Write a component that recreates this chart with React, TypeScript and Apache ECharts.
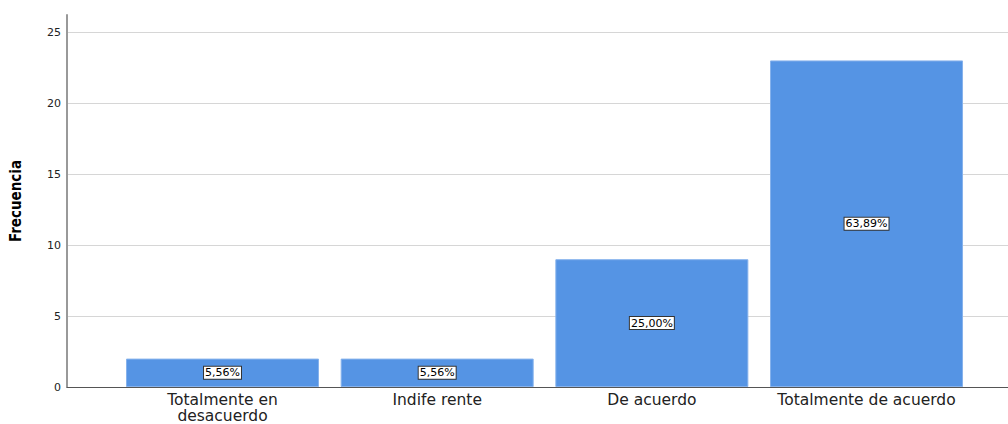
import React, { useEffect, useRef } from "react";
import * as echarts from "echarts";

const categories = ["Totalmente en\ndesacuerdo", "Indife rente", "De acuerdo", "Totalmente de acuerdo"];
const frequencies = [2, 2, 9, 23];
const percentLabels = ["5,56%", "5,56%", "25,00%", "63,89%"];
const yTicks = [0, 5, 10, 15, 20, 25];

export default function App() {
  const ref = useRef<HTMLDivElement>(null);
  useEffect(() => {
    if (!ref.current) return;
    const chart = echarts.init(ref.current, null, { renderer: "svg" });
    const font = "DejaVu Sans, Liberation Sans, Arial, sans-serif";
    chart.setOption({
      animation: false,
      backgroundColor: "#ffffff",
      grid: { left: 67, right: 0, top: 15, bottom: 37, containLabel: false, outerBoundsMode: "none" },
      xAxis: {
        type: "value",
        min: -0.7244,
        max: 3.659,
        axisLine: { show: true, onZero: false, lineStyle: { color: "#555555", width: 1 } },
        axisTick: { show: false },
        splitLine: { show: false },
        axisLabel: {
          customValues: [0, 1, 2, 3],
          formatter: (v: number) => categories[Math.round(v)] ?? "",
          color: "#222222",
          fontSize: 15.5,
          fontFamily: font,
          lineHeight: 16,
          margin: 5,
        },
      },
      yAxis: {
        type: "value",
        min: 0,
        max: 26.2,
        interval: 5,
        name: "Frecuencia",
        nameLocation: "middle",
        nameGap: 44,
        nameRotate: 90,
        nameTextStyle: { color: "#000000", fontSize: 15, fontWeight: "bold", fontFamily: "DejaVu Sans Condensed, Liberation Sans Narrow, Liberation Sans, sans-serif" },
        axisLine: { show: true, onZero: false, lineStyle: { color: "#999999", width: 2 } },
        axisTick: { show: false },
        axisLabel: {
          customValues: yTicks,
          color: "#222222",
          fontSize: 11,
          fontFamily: font,
          margin: 6,
        },
        splitLine: { show: true, showMaxLine: false, showMinLine: false, lineStyle: { color: "#d6d6d6", width: 1 } },
      },
      series: [
        {
          type: "bar",
          data: frequencies.map((f, i) => [i, f]),
          barWidth: 193,
          itemStyle: { color: "#5594e4", borderColor: "#86b2ec", borderWidth: 1 },
          label: {
            show: true,
            position: "inside",
            formatter: (p: any) => percentLabels[p.dataIndex],
            color: "#000000",
            fontSize: 11,
            fontFamily: font,
            backgroundColor: "#ffffff",
            borderColor: "#333333",
            borderWidth: 1,
            padding: [1, 1, 0, 1],
          },
        },
      ],
    });
    return () => chart.dispose();
  }, []);
  return <div ref={ref} style={{ position: "fixed", left: 0, top: 0, width: 1008, height: 424 }} />;
}
